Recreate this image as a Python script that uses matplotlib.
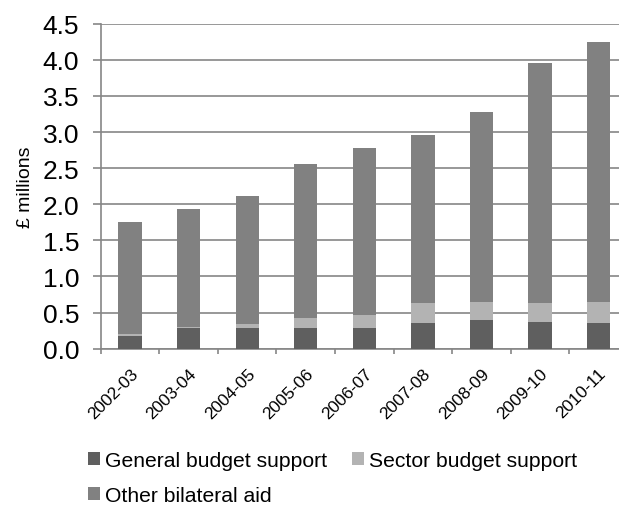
import matplotlib
matplotlib.use("Agg")
import matplotlib.pyplot as plt
import numpy as np

plt.rcParams['font.family'] = ['Liberation Sans', 'DejaVu Sans']

#%% Daten

years = ['2002-03', '2003-04', '2004-05', '2005-06', '2006-07',
         '2007-08', '2008-09', '2009-10', '2010-11']
general = [0.18, 0.28, 0.28, 0.29, 0.29, 0.36, 0.39, 0.375, 0.35]
sector = [0.02, 0.025, 0.06, 0.14, 0.18, 0.275, 0.26, 0.26, 0.30]
other = [1.55, 1.635, 1.77, 2.13, 2.31, 2.325, 2.63, 3.325, 3.60]

#%% Farben

c_gen = '#5f5f5f'
c_sec = '#b3b3b3'
c_oth = '#818181'
c_axis = '#868686'

#%% Plot

fig = plt.figure(figsize=(6.19, 5.06), dpi=100)
ax = fig.add_axes([0.163, 0.309, 0.851, 0.642])

x = np.arange(len(years))
general = np.array(general)
sector = np.array(sector)
other = np.array(other)

b1 = ax.bar(x, general, width=0.4, color=c_gen, label='General budget support', zorder=3)
b2 = ax.bar(x, sector, width=0.4, bottom=general, color=c_sec, label='Sector budget support', zorder=3)
b3 = ax.bar(x, other, width=0.4, bottom=general + sector, color=c_oth, label='Other bilateral aid', zorder=3)

ax.set_xlim(-0.5, len(years) - 0.5)
ax.set_ylim(0, 4.5)
yt = np.arange(0, 4.51, 0.5)
ax.set_yticks(yt)
ax.set_yticklabels([f'{v:.1f}' for v in yt], fontsize=19)
ax.yaxis.grid(True, color=c_axis, lw=1.2, zorder=0)

ax.set_xticks(x)
ax.set_xticklabels(years, rotation=45, ha='right', rotation_mode='anchor', fontsize=12.5)
ax.set_xticks(np.arange(-0.5, len(years), 1), minor=True)
ax.tick_params(axis='x', which='major', length=0, pad=12)
ax.tick_params(axis='x', which='minor', length=3.6, color=c_axis, width=1.2)
ax.tick_params(axis='y', length=5.5, color=c_axis, width=1.2, pad=10)

for s in ['top', 'right']:
    ax.spines[s].set_visible(False)
for s in ['left', 'bottom']:
    ax.spines[s].set_color(c_axis)
    ax.spines[s].set_linewidth(1.2)

ax.set_ylabel('£ millions', fontsize=14, labelpad=6)

# Reihenfolge so, dass Zeile 1: General, Sector / Zeile 2: Other
fig.legend([b1, b3, b2],
           ['General budget support', 'Other bilateral aid', 'Sector budget support'],
           loc='upper left', bbox_to_anchor=(0.142, 0.107), ncol=2, frameon=False,
           fontsize=15.2, handlelength=0.57, handleheight=0.57, handletextpad=0.24,
           columnspacing=1.18, labelspacing=0.75, borderpad=0, borderaxespad=0)

fig.savefig('out.png', dpi=100)
